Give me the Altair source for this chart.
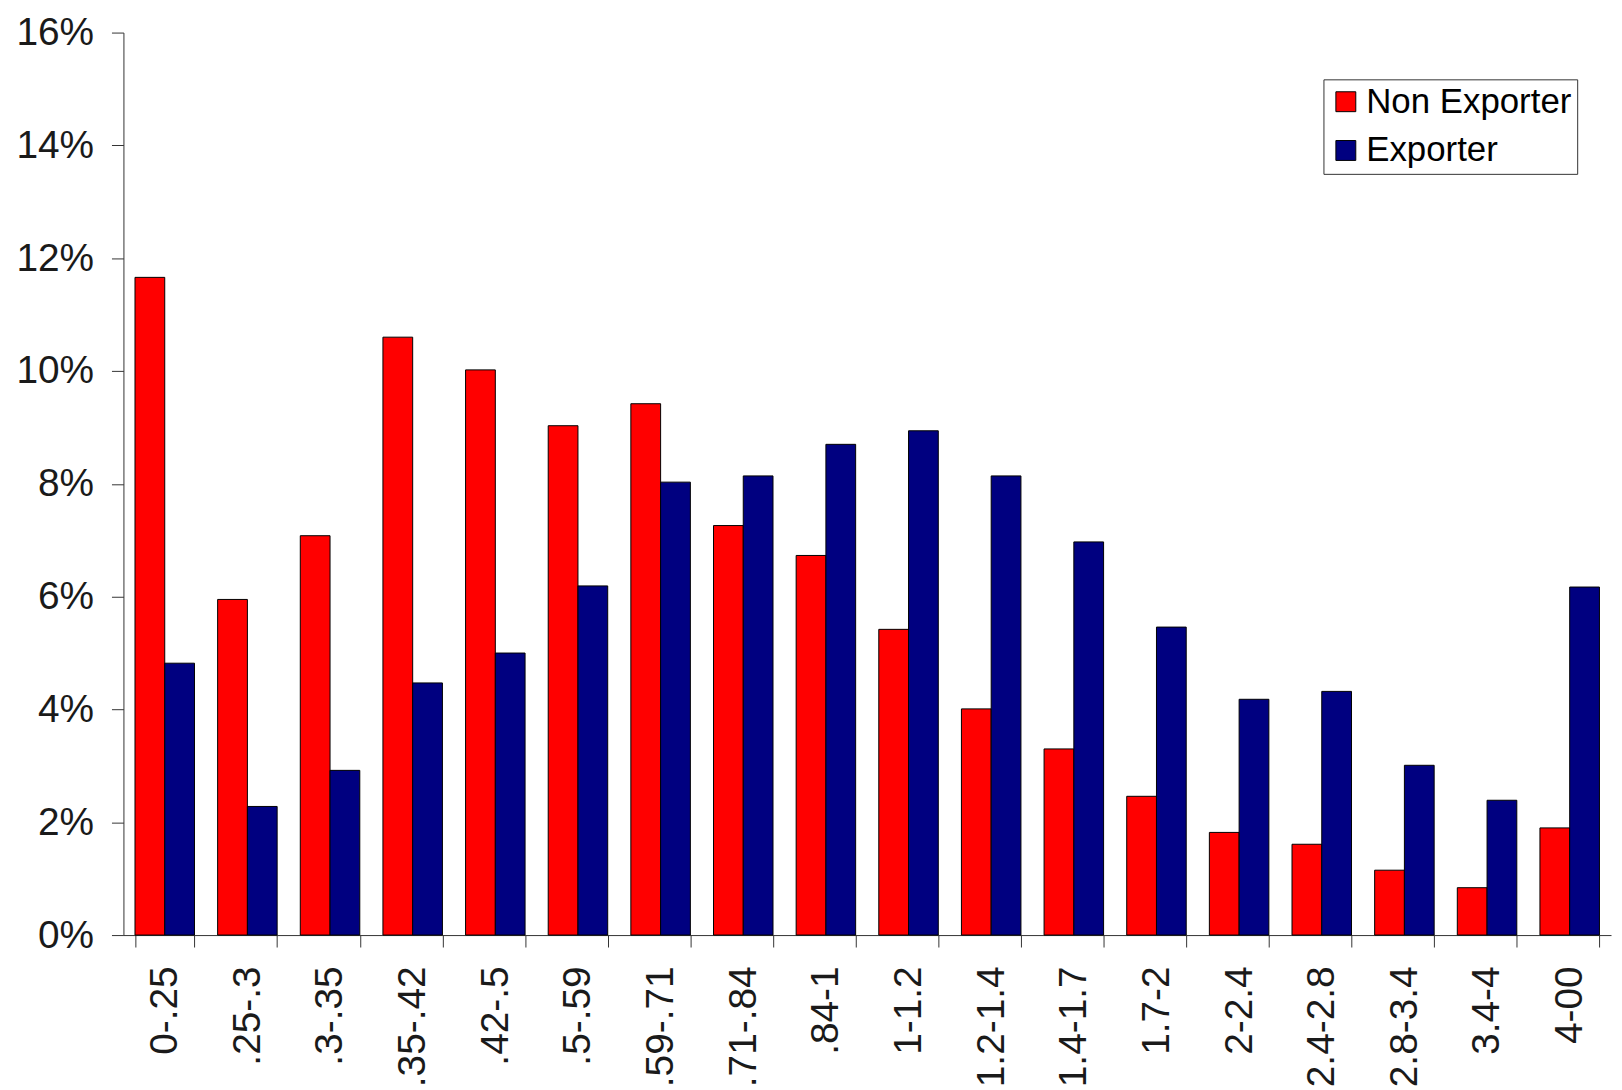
import altair as alt
import pandas as pd

categories = ["0-.25", ".25-.3", ".3-.35", ".35-.42", ".42-.5", ".5-.59", ".59-.71", ".71-.84",
              ".84-1", "1-1.2", "1.2-1.4", "1.4-1.7", "1.7-2", "2-2.4", "2.4-2.8", "2.8-3.4",
              "3.4-4", "4-00"]
non_exporter = [11.66, 5.95, 7.08, 10.60, 10.02, 9.03, 9.42, 7.26, 6.73, 5.42, 4.01, 3.30,
                2.46, 1.82, 1.61, 1.15, 0.84, 1.90]
exporter = [4.82, 2.28, 2.92, 4.47, 5.00, 6.19, 8.03, 8.14, 8.70, 8.94, 8.14, 6.97,
            5.46, 4.18, 4.32, 3.01, 2.39, 6.17]
series = ["Non Exporter", "Exporter"]
colors = ["#FF0000", "#000080"]
y_ticks = [0, 0.02, 0.04, 0.06, 0.08, 0.10, 0.12, 0.14, 0.16]

rows = []
for i, c in enumerate(categories):
    rows.append({"range": c, "series": series[0], "value": non_exporter[i] / 100})
    rows.append({"range": c, "series": series[1], "value": exporter[i] / 100})
df = pd.DataFrame(rows)

FONT = "Liberation Sans"

chart = alt.Chart(df).mark_bar(stroke="black", strokeWidth=1).encode(
    x=alt.X("range:N", sort=categories,
            scale=alt.Scale(paddingInner=0.28, paddingOuter=0.14),
            axis=alt.Axis(title=None, labelAngle=-90, labelAlign="right", labelBaseline="middle",
                          labelFontSize=39, labelFont=FONT, labelColor="#1a1a1a",
                          labelPadding=19, tickSize=12, tickBand="extent",
                          domainColor="#333333", tickColor="#333333", labelOverlap=False)),
    xOffset=alt.XOffset("series:N", sort=series, scale=alt.Scale(paddingInner=0, paddingOuter=0)),
    y=alt.Y("value:Q", scale=alt.Scale(domain=[0, 0.16], nice=False),
            axis=alt.Axis(title=None, values=y_ticks, format=".0%", grid=False,
                          labelFontSize=39, labelFont=FONT, labelColor="#1a1a1a",
                          labelPadding=18, tickSize=12,
                          domainColor="#333333", tickColor="#333333")),
    color=alt.Color("series:N", sort=series,
                    scale=alt.Scale(domain=series, range=colors),
                    legend=alt.Legend(title=None, orient="none", legendX=1206, legendY=47,
                                      symbolType="square", symbolSize=400,
                                      symbolStrokeColor="black", symbolStrokeWidth=1,
                                      labelFontSize=35, labelFont=FONT, labelColor="#000000",
                                      labelOffset=3, labelLimit=500, rowPadding=13, padding=5,
                                      strokeColor="#333333", fillColor="white")),
).properties(
    width=1495, height=907,
    autosize=alt.AutoSizeParams(type="none"),
    padding={"left": 116, "top": 22, "right": 3, "bottom": 150},
).configure_view(stroke=None)

chart.save("out.html", embed_options={"renderer": "svg", "actions": False})
